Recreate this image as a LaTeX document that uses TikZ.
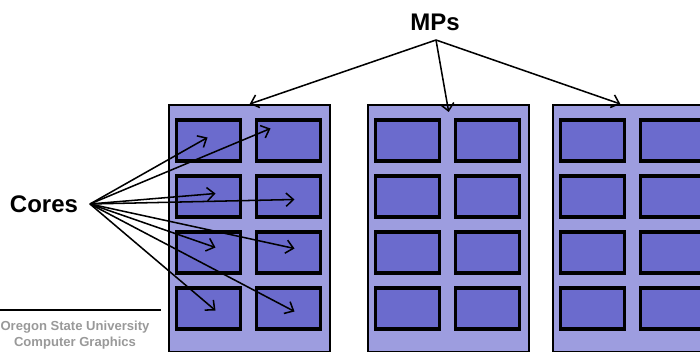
\documentclass[tikz,border=0pt]{standalone}
\usepackage{fontspec}
\setmainfont{Liberation Sans}
\usetikzlibrary{calc,arrows.meta}

\definecolor{mpfill}{HTML}{9D9DDF}
\definecolor{corefill}{HTML}{6B6BCD}
\definecolor{osugray}{HTML}{999999}

\tikzset{
  mpbox/.style={draw, line width=1.8pt, fill=mpfill, inner sep=0pt, anchor=north west,
    minimum width=120.75pt, minimum height=185.25pt},
  corebox/.style={draw, line width=2.3pt, fill=corefill, inner sep=0pt,
    minimum width=48pt, minimum height=30.75pt},
  arr/.style={-{Straight Barb[length=5.5pt,width=10pt]}, line width=1.15pt},
  lbl/.style={font=\bfseries\fontsize{18}{20}\selectfont, inner sep=0pt},
  footer/.style={font=\bfseries\fontsize{9.8}{12}\selectfont, text=osugray, align=center, inner sep=0pt}
}

\begin{document}
\begin{tikzpicture}[x=0.75pt,y=-0.75pt]
\useasboundingbox (0,0) rectangle (700,352);
\clip (0,0) rectangle (700,352);

% the three MPs
\node[mpbox] (mp1) at (168,104) {};
\node[mpbox] (mp2) at (367,104) {};
\node[mpbox] (mp3) at (552,104) {};

% cores, 2 columns x 4 rows in each MP
\foreach \m in {1,2,3}{
  \foreach \r/\dy in {1/36.5,2/92.5,3/148.5,4/204.5}{
    \node[corebox] (c\m\r1) at ($(mp\m.north west)+(40.5,\dy)$) {};
    \node[corebox] (c\m\r2) at ($(mp\m.north west)+(120.5,\dy)$) {};
  }
}

% labels
\node[lbl] (mps) at (435,22) {MPs};
\node[lbl] (cores) at (44,204) {Cores};
\coordinate (mpfrom) at (436,40);
\coordinate (cfrom) at (90,204);

\draw[arr] (mpfrom) -- (mp1.north);
\draw[arr] (mpfrom) -- ([yshift=-6]mp2.north);
\draw[arr] (mpfrom) -- ([xshift=-10]mp3.north);

\draw[arr] (cfrom) -- ([shift={(-1,-3)}]c111.center);
\draw[arr] (cfrom) -- ([shift={(-18,-12)}]c112.center);
\draw[arr] (cfrom) -- ([shift={(7,-3)}]c121.center);
\draw[arr] (cfrom) -- ([shift={(6,3)}]c122.center);
\draw[arr] (cfrom) -- ([shift={(7,-5)}]c131.center);
\draw[arr] (cfrom) -- ([shift={(6,-4)}]c132.center);
\draw[arr] (cfrom) -- ([shift={(7,2)}]c141.center);
\draw[arr] (cfrom) -- ([shift={(6,3)}]c142.center);

% footer
\draw[line width=1.5pt] (0,310) -- (161,310);
\node[footer] (osu) at (75,335) {Oregon State University\\Computer Graphics};
\end{tikzpicture}
\end{document}
